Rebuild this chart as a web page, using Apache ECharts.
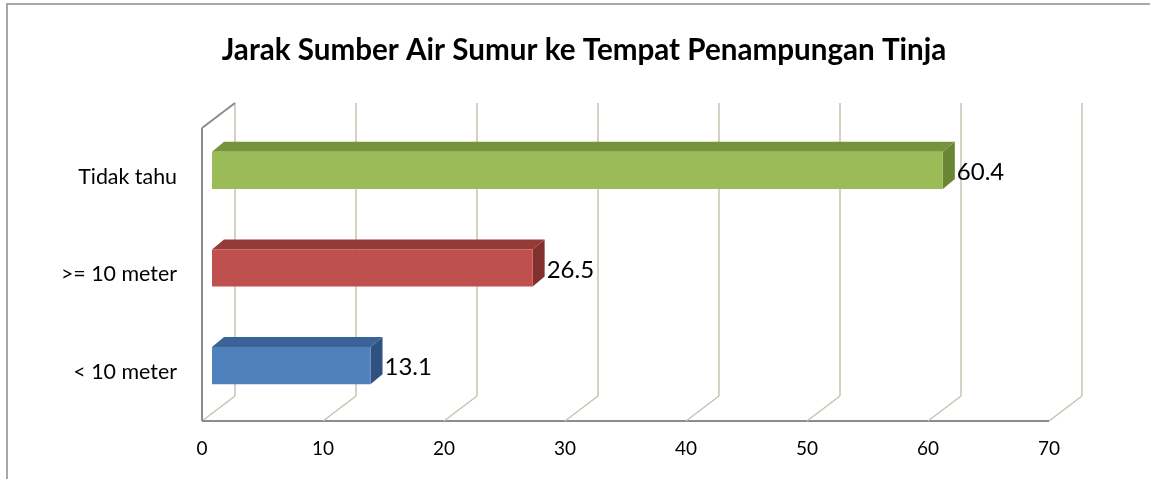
<!DOCTYPE html>
<html>
<head>
<meta charset="utf-8">
<script src="https://cdn.jsdelivr.net/npm/echarts@6/dist/echarts.min.js"></script>
<style>html,body{margin:0;padding:0;background:#fff}#c{width:1150px;height:479px}</style>
</head>
<body>
<div id="c"></div>
<script>
const titleText = 'Jarak Sumber Air Sumur ke Tempat Penampungan Tinja';
const categories = ['< 10 meter', '>= 10 meter', 'Tidak tahu'];
const values = [13.1, 26.5, 60.4];
const xTicks = [0, 10, 20, 30, 40, 50, 60, 70];

const faceColors = [
  {front: '#4F81BD', top: '#3B6496', side: '#2F5280'},
  {front: '#C0504D', top: '#943B38', side: '#82302E'},
  {front: '#9BBB59', top: '#77933C', side: '#6A8634'}
];
const DX = 33, DY = -25;          // depth of walls
const BFX = 10, BFY = -6.5;       // bar front face offset
const BDX = 12, BDY = -10;        // bar depth
const FONT = 'Lato, Carlito, "Open Sans", sans-serif';

const chart = echarts.init(document.getElementById('c'), null, {renderer: 'canvas'});

function renderGrid(params, api) {
  const cs = params.coordSys;
  const v = api.value(0);
  const x = api.coord([v, 0])[0];
  const top = cs.y, bottom = cs.y + cs.height;
  const children = [
    {type: 'line', shape: {x1: x + DX, y1: top + DY, x2: x + DX, y2: bottom + DY},
     style: {stroke: '#C6C3B0', lineWidth: 1.5}},
    {type: 'line', shape: {x1: x, y1: bottom, x2: x + DX, y2: bottom + DY},
     style: {stroke: '#C6C3B0', lineWidth: 1.5}}
  ];
  if (params.dataIndex === 0) {
    children.push(
      {type: 'line', shape: {x1: cs.x, y1: top, x2: cs.x, y2: bottom}, style: {stroke: '#8C8C8C', lineWidth: 2}},
      {type: 'line', shape: {x1: cs.x, y1: top, x2: cs.x + DX, y2: top + DY}, style: {stroke: '#8C8C8C', lineWidth: 2}},
      {type: 'line', shape: {x1: cs.x, y1: bottom, x2: cs.x + cs.width, y2: bottom}, style: {stroke: '#8C8C8C', lineWidth: 2}}
    );
  }
  return {type: 'group', children: children};
}

function renderBar(params, api) {
  const v = api.value(0);
  const ci = api.value(1);
  const p0 = api.coord([0, ci]);
  const p1 = api.coord([v, ci]);
  const band = api.size([0, 1])[1];
  const h = band * 0.38;
  const x0 = p0[0] + BFX, x1 = p1[0] + BFX;
  const yc = p0[1] + BFY;
  const yt = yc - h / 2, yb = yc + h / 2;
  const c = faceColors[ci];
  return {
    type: 'group',
    children: [
      {type: 'polygon', shape: {points: [[x0, yt], [x1, yt], [x1 + BDX, yt + BDY], [x0 + BDX, yt + BDY]]},
       style: {fill: c.top}},
      {type: 'polygon', shape: {points: [[x1, yt], [x1 + BDX, yt + BDY], [x1 + BDX, yb + BDY], [x1, yb]]},
       style: {fill: c.side}},
      {type: 'rect', shape: {x: x0, y: yt, width: x1 - x0, height: h},
       style: {fill: c.front}},
      {type: 'text', style: {text: String(v), x: x1 + BDX + 2, y: yc + 2, fill: '#000',
        fontSize: 24, fontFamily: FONT, align: 'left', verticalAlign: 'middle'}}
    ]
  };
}

chart.setOption({
  animation: false,
  backgroundColor: '#fff',
  title: {
    text: titleText, left: 579, top: 30, textAlign: 'center',
    textStyle: {fontFamily: FONT, fontWeight: 'bold', fontSize: 29.6, color: '#000'}
  },
  graphic: [{
    type: 'rect', shape: {x: 7, y: 4, width: 1300, height: 700},
    style: {fill: 'none', stroke: '#8C8C8C', lineWidth: 1.5}, z: 100
  }],
  grid: {left: 202, right: 101, top: 128, bottom: 58, containLabel: false},
  xAxis: {
    type: 'value', min: 0, max: 70, interval: 10,
    axisLine: {show: false}, axisTick: {show: false}, splitLine: {show: false},
    axisLabel: {margin: 18, fontSize: 19, fontFamily: FONT, color: '#000',
      formatter: function (val) { return xTicks.indexOf(val) >= 0 ? String(val) : ''; }}
  },
  yAxis: {
    type: 'category', data: categories,
    axisLine: {show: false}, axisTick: {show: false}, splitLine: {show: false},
    axisLabel: {margin: 25, fontSize: 21.4, fontFamily: FONT, color: '#000', padding: [4, 0, 0, 0]}
  },
  series: [
    {type: 'custom', renderItem: renderGrid, data: xTicks.map(t => [t]), z: 1, silent: true,
     encode: {x: 0}},
    {type: 'custom', renderItem: renderBar, data: values.map((v, i) => [v, i]), z: 2,
     encode: {x: 0, y: 1}}
  ]
});
</script>
</body>
</html>
